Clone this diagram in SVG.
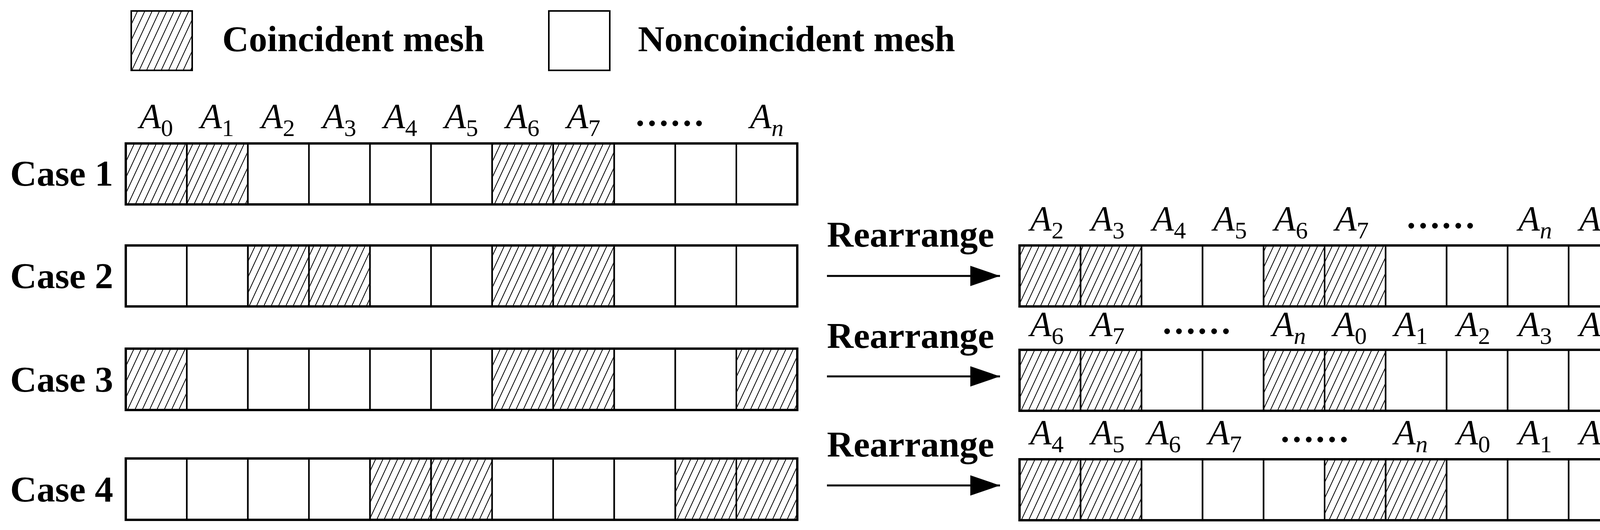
<svg xmlns="http://www.w3.org/2000/svg" width="4354" height="1356" viewBox="0 0 4354 1356">
<defs>
<pattern id="h" width="17" height="17" patternUnits="userSpaceOnUse" patternTransform="rotate(25)"><line x1="8" y1="0" x2="8" y2="17" stroke="#000" stroke-width="2"/></pattern>
<marker id="ah" markerWidth="76" markerHeight="52" refX="76" refY="26" markerUnits="userSpaceOnUse" orient="auto"><path d="M0,0 L76,26 L0,52 Z" fill="#000"/></marker>
</defs>
<style>
.b{font-family:"Liberation Serif",serif;font-weight:bold;font-size:94px}
.a{font-family:"Liberation Serif",serif;font-style:italic;font-size:90px;text-anchor:middle}
.s{font-size:62px;font-style:normal}
.c{stroke:#000;stroke-width:4;fill:#fff}
.hc{stroke:#000;stroke-width:4;fill:url(#h)}
.o{stroke:#000;stroke-width:6;fill:none}
</style>
<rect width="4354" height="1356" fill="#fff"/>
<g id="legend">
<rect class="hc" x="336" y="28" width="156" height="152"/>
<text class="b" x="569" y="131">Coincident mesh</text>
<rect class="c" x="1405" y="28" width="156" height="152"/>
<text class="b" x="1633" y="131">Noncoincident mesh</text>
</g>
<g id="labels">
<text class="b" x="26" y="475">Case 1</text>
<text class="b" x="26" y="737">Case 2</text>
<text class="b" x="26" y="1002">Case 3</text>
<text class="b" x="26" y="1283">Case 4</text>
<text class="b" x="2117" y="631">Rearrange</text>
<text class="b" x="2117" y="890">Rearrange</text>
<text class="b" x="2117" y="1168">Rearrange</text>
</g>
<g id="case1">
<rect class="hc" x="322" y="367" width="156.3" height="156"/><rect class="hc" x="478.3" y="367" width="156.3" height="156"/>
<rect class="c" x="634.6" y="367" width="156.3" height="156"/><rect class="c" x="790.9" y="367" width="156.3" height="156"/>
<rect class="c" x="947.2" y="367" width="156.3" height="156"/><rect class="c" x="1103.5" y="367" width="156.3" height="156"/>
<rect class="hc" x="1259.8" y="367" width="156.3" height="156"/><rect class="hc" x="1416.1" y="367" width="156.3" height="156"/>
<rect class="c" x="1572.4" y="367" width="156.3" height="156"/><rect class="c" x="1728.7" y="367" width="156.3" height="156"/>
<rect class="c" x="1885" y="367" width="156.3" height="156"/>
<rect class="o" x="322" y="367" width="1719" height="156"/>
<text class="a" y="328"><tspan x="400">A</tspan><tspan class="s" dy="20">0</tspan></text>
<text class="a" y="328"><tspan x="556">A</tspan><tspan class="s" dy="20">1</tspan></text>
<text class="a" y="328"><tspan x="712">A</tspan><tspan class="s" dy="20">2</tspan></text>
<text class="a" y="328"><tspan x="869">A</tspan><tspan class="s" dy="20">3</tspan></text>
<text class="a" y="328"><tspan x="1025">A</tspan><tspan class="s" dy="20">4</tspan></text>
<text class="a" y="328"><tspan x="1181">A</tspan><tspan class="s" dy="20">5</tspan></text>
<text class="a" y="328"><tspan x="1338">A</tspan><tspan class="s" dy="20">6</tspan></text>
<text class="a" y="328"><tspan x="1494">A</tspan><tspan class="s" dy="20">7</tspan></text>
<text class="a" x="1714" y="322" style="font-style:normal;font-weight:bold">……</text>
<text class="a" y="328"><tspan x="1963">A</tspan><tspan class="s" dy="20" style="font-style:italic">n</tspan></text>
</g>
<g id="case2">
<rect class="c" x="322" y="628" width="156.3" height="156"/><rect class="c" x="478.3" y="628" width="156.3" height="156"/>
<rect class="hc" x="634.6" y="628" width="156.3" height="156"/><rect class="hc" x="790.9" y="628" width="156.3" height="156"/>
<rect class="c" x="947.2" y="628" width="156.3" height="156"/><rect class="c" x="1103.5" y="628" width="156.3" height="156"/>
<rect class="hc" x="1259.8" y="628" width="156.3" height="156"/><rect class="hc" x="1416.1" y="628" width="156.3" height="156"/>
<rect class="c" x="1572.4" y="628" width="156.3" height="156"/><rect class="c" x="1728.7" y="628" width="156.3" height="156"/>
<rect class="c" x="1885" y="628" width="156.3" height="156"/>
<rect class="o" x="322" y="628" width="1719" height="156"/>
</g>
<g id="case3">
<rect class="hc" x="322" y="892" width="156.3" height="157"/><rect class="c" x="478.3" y="892" width="156.3" height="157"/>
<rect class="c" x="634.6" y="892" width="156.3" height="157"/><rect class="c" x="790.9" y="892" width="156.3" height="157"/>
<rect class="c" x="947.2" y="892" width="156.3" height="157"/><rect class="c" x="1103.5" y="892" width="156.3" height="157"/>
<rect class="hc" x="1259.8" y="892" width="156.3" height="157"/><rect class="hc" x="1416.1" y="892" width="156.3" height="157"/>
<rect class="c" x="1572.4" y="892" width="156.3" height="157"/><rect class="c" x="1728.7" y="892" width="156.3" height="157"/>
<rect class="hc" x="1885" y="892" width="156.3" height="157"/>
<rect class="o" x="322" y="892" width="1719" height="157"/>
</g>
<g id="case4">
<rect class="c" x="322" y="1173" width="156.3" height="157"/><rect class="c" x="478.3" y="1173" width="156.3" height="157"/>
<rect class="c" x="634.6" y="1173" width="156.3" height="157"/><rect class="c" x="790.9" y="1173" width="156.3" height="157"/>
<rect class="hc" x="947.2" y="1173" width="156.3" height="157"/><rect class="hc" x="1103.5" y="1173" width="156.3" height="157"/>
<rect class="c" x="1259.8" y="1173" width="156.3" height="157"/><rect class="c" x="1416.1" y="1173" width="156.3" height="157"/>
<rect class="c" x="1572.4" y="1173" width="156.3" height="157"/><rect class="hc" x="1728.7" y="1173" width="156.3" height="157"/>
<rect class="hc" x="1885" y="1173" width="156.3" height="157"/>
<rect class="o" x="322" y="1173" width="1719" height="157"/>
</g>
<g id="result2">
<rect class="hc" x="2610" y="628" width="156.2" height="156"/><rect class="hc" x="2766.2" y="628" width="156.2" height="156"/>
<rect class="c" x="2922.4" y="628" width="156.2" height="156"/><rect class="c" x="3078.6" y="628" width="156.2" height="156"/>
<rect class="hc" x="3234.8" y="628" width="156.2" height="156"/><rect class="hc" x="3391" y="628" width="156.2" height="156"/>
<rect class="c" x="3547.2" y="628" width="156.2" height="156"/><rect class="c" x="3703.4" y="628" width="156.2" height="156"/>
<rect class="c" x="3859.6" y="628" width="156.2" height="156"/><rect class="c" x="4015.8" y="628" width="156.2" height="156"/>
<rect class="c" x="4172" y="628" width="156.2" height="156"/>
<rect class="o" x="2610" y="628" width="1718" height="156"/>
<text class="a" y="590"><tspan x="2680">A</tspan><tspan class="s" dy="20">2</tspan></text>
<text class="a" y="590"><tspan x="2836">A</tspan><tspan class="s" dy="20">3</tspan></text>
<text class="a" y="590"><tspan x="2993">A</tspan><tspan class="s" dy="20">4</tspan></text>
<text class="a" y="590"><tspan x="3149">A</tspan><tspan class="s" dy="20">5</tspan></text>
<text class="a" y="590"><tspan x="3305">A</tspan><tspan class="s" dy="20">6</tspan></text>
<text class="a" y="590"><tspan x="3461">A</tspan><tspan class="s" dy="20">7</tspan></text>
<text class="a" x="3688" y="584" style="font-style:normal;font-weight:bold">……</text>
<text class="a" y="590"><tspan x="3930">A</tspan><tspan class="s" dy="20" style="font-style:italic">n</tspan></text>
<text class="a" y="590"><tspan x="4086">A</tspan><tspan class="s" dy="20">0</tspan></text>
<text class="a" y="590"><tspan x="4242">A</tspan><tspan class="s" dy="20">1</tspan></text>
</g>
<g id="result3">
<rect class="hc" x="2610" y="895" width="156.2" height="156"/><rect class="hc" x="2766.2" y="895" width="156.2" height="156"/>
<rect class="c" x="2922.4" y="895" width="156.2" height="156"/><rect class="c" x="3078.6" y="895" width="156.2" height="156"/>
<rect class="hc" x="3234.8" y="895" width="156.2" height="156"/><rect class="hc" x="3391" y="895" width="156.2" height="156"/>
<rect class="c" x="3547.2" y="895" width="156.2" height="156"/><rect class="c" x="3703.4" y="895" width="156.2" height="156"/>
<rect class="c" x="3859.6" y="895" width="156.2" height="156"/><rect class="c" x="4015.8" y="895" width="156.2" height="156"/>
<rect class="c" x="4172" y="895" width="156.2" height="156"/>
<rect class="o" x="2610" y="895" width="1718" height="156"/>
<text class="a" y="860"><tspan x="2680">A</tspan><tspan class="s" dy="20">6</tspan></text>
<text class="a" y="860"><tspan x="2836">A</tspan><tspan class="s" dy="20">7</tspan></text>
<text class="a" x="3063" y="854" style="font-style:normal;font-weight:bold">……</text>
<text class="a" y="860"><tspan x="3300">A</tspan><tspan class="s" dy="20" style="font-style:italic">n</tspan></text>
<text class="a" y="860"><tspan x="3456">A</tspan><tspan class="s" dy="20">0</tspan></text>
<text class="a" y="860"><tspan x="3612">A</tspan><tspan class="s" dy="20">1</tspan></text>
<text class="a" y="860"><tspan x="3772">A</tspan><tspan class="s" dy="20">2</tspan></text>
<text class="a" y="860"><tspan x="3930">A</tspan><tspan class="s" dy="20">3</tspan></text>
<text class="a" y="860"><tspan x="4086">A</tspan><tspan class="s" dy="20">4</tspan></text>
<text class="a" y="860"><tspan x="4242">A</tspan><tspan class="s" dy="20">5</tspan></text>
</g>
<g id="result4">
<rect class="hc" x="2610" y="1175" width="156.2" height="156"/><rect class="hc" x="2766.2" y="1175" width="156.2" height="156"/>
<rect class="c" x="2922.4" y="1175" width="156.2" height="156"/><rect class="c" x="3078.6" y="1175" width="156.2" height="156"/>
<rect class="c" x="3234.8" y="1175" width="156.2" height="156"/><rect class="hc" x="3391" y="1175" width="156.2" height="156"/>
<rect class="hc" x="3547.2" y="1175" width="156.2" height="156"/><rect class="c" x="3703.4" y="1175" width="156.2" height="156"/>
<rect class="c" x="3859.6" y="1175" width="156.2" height="156"/><rect class="c" x="4015.8" y="1175" width="156.2" height="156"/>
<rect class="c" x="4172" y="1175" width="156.2" height="156"/>
<rect class="o" x="2610" y="1175" width="1718" height="156"/>
<text class="a" y="1137"><tspan x="2680">A</tspan><tspan class="s" dy="20">4</tspan></text>
<text class="a" y="1137"><tspan x="2836">A</tspan><tspan class="s" dy="20">5</tspan></text>
<text class="a" y="1137"><tspan x="2980">A</tspan><tspan class="s" dy="20">6</tspan></text>
<text class="a" y="1137"><tspan x="3136">A</tspan><tspan class="s" dy="20">7</tspan></text>
<text class="a" x="3365" y="1131" style="font-style:normal;font-weight:bold">……</text>
<text class="a" y="1137"><tspan x="3612">A</tspan><tspan class="s" dy="20" style="font-style:italic">n</tspan></text>
<text class="a" y="1137"><tspan x="3772">A</tspan><tspan class="s" dy="20">0</tspan></text>
<text class="a" y="1137"><tspan x="3930">A</tspan><tspan class="s" dy="20">1</tspan></text>
<text class="a" y="1137"><tspan x="4086">A</tspan><tspan class="s" dy="20">2</tspan></text>
<text class="a" y="1137"><tspan x="4242">A</tspan><tspan class="s" dy="20">3</tspan></text>
</g>
<g id="connectors" stroke="#000" stroke-width="5">
<line x1="2117" y1="706" x2="2560" y2="706" marker-end="url(#ah)"/>
<line x1="2117" y1="963" x2="2560" y2="963" marker-end="url(#ah)"/>
<line x1="2117" y1="1242" x2="2560" y2="1242" marker-end="url(#ah)"/>
</g>
</svg>
